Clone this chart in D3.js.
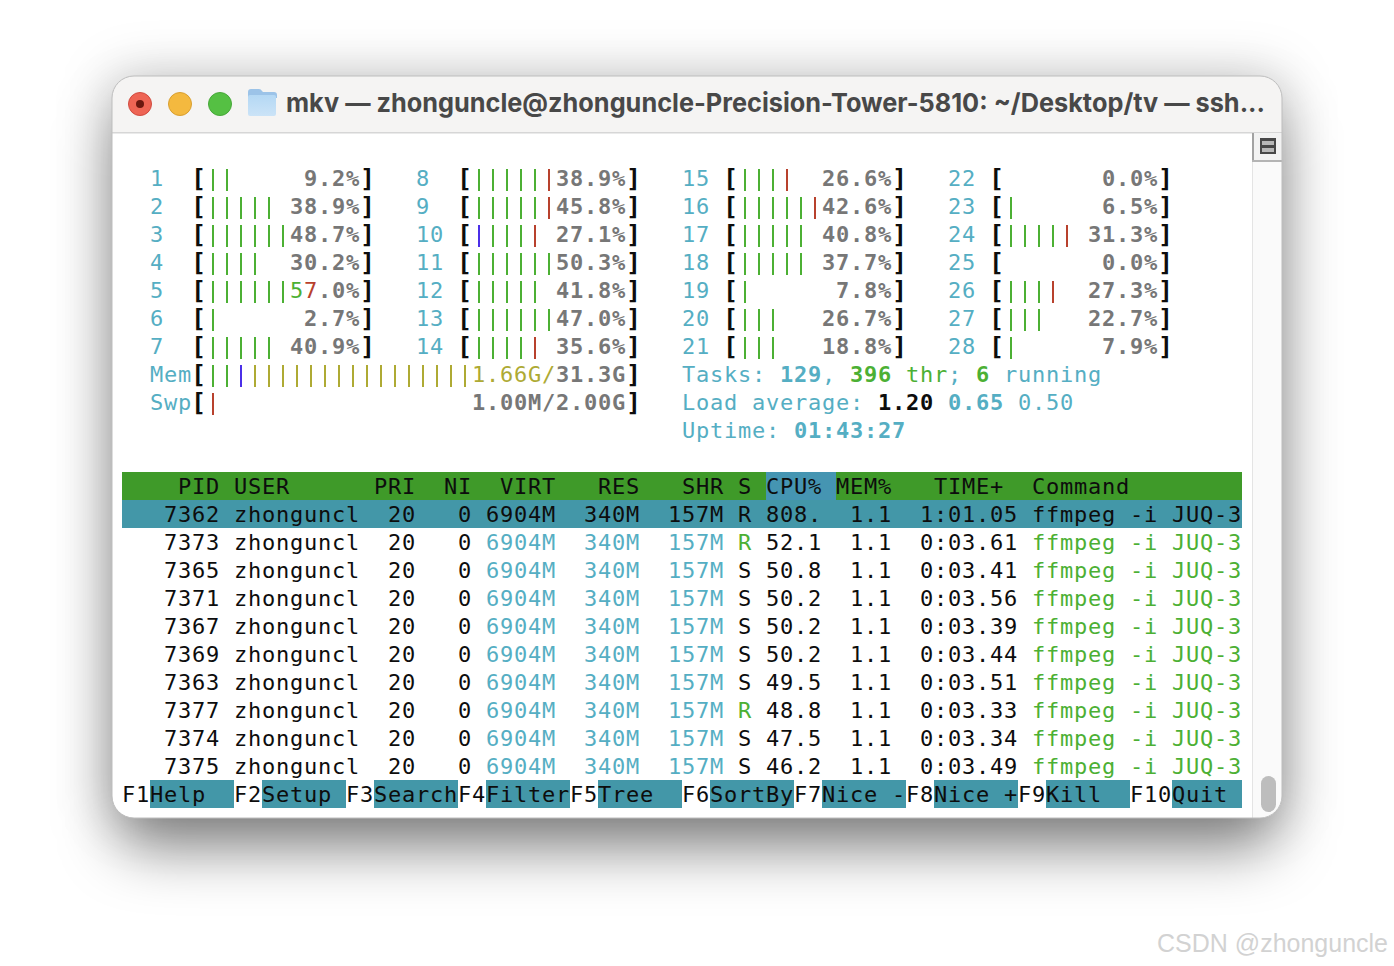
<!DOCTYPE html>
<html>
<head>
<meta charset="utf-8">
<script src="https://cdn.jsdelivr.net/npm/d3@7"></script>
<style>
html, body { margin: 0; padding: 0; background: #fff; overflow: hidden; }
svg { display: block; }
text.term { font-family: "DejaVu Sans Mono", monospace; font-size: 22px; letter-spacing: 0.76px; white-space: pre; }
</style>
</head>
<body>
<script>
var w = 1394,
    h = 966;

// cpu meters
var cpuLabels = d3.range(1, 29);
var cpuPct = [9.2, 38.9, 48.7, 30.2, 57.0, 2.7, 40.9,
              38.9, 45.8, 27.1, 50.3, 41.8, 47.0, 35.6,
              26.6, 42.6, 40.8, 37.7, 7.8, 26.7, 18.8,
              0.0, 6.5, 31.3, 0.0, 27.3, 22.7, 7.9];
var cpuBars = ["gg", "ggggg", "gggggg", "gggg", "gggggggr", "g", "ggggg",
               "gggggr", "gggggr", "bgggr", "gggggg", "ggggg", "gggggg", "ggggr",
               "gggr", "gggggr", "ggggg", "ggggg", "g", "ggg", "ggg",
               "", "g", "ggggr", "", "gggr", "ggg", "g"];
var cpuLabelCols = [2, 21, 40, 59];

var memLabels = ["Mem", "Swp"];
var memText = ["1.66G/31.3G", "1.00M/2.00G"];
var memBars = ["ggbyyyyyyyyyyyyyyyyyyyyyy", "r"];

// process table
var pids = [7362, 7373, 7365, 7371, 7367, 7369, 7363, 7377, 7374, 7375];
var states = ["R", "R", "S", "S", "S", "S", "S", "R", "S", "S"];
var cpuUse = ["808.", "52.1", "50.8", "50.2", "50.2", "50.2", "49.5", "48.8", "47.5", "46.2"];
var times = ["1:01.05", "0:03.61", "0:03.41", "0:03.56", "0:03.39", "0:03.44", "0:03.51", "0:03.33", "0:03.34", "0:03.49"];
var headers = ["PID", "USER", "PRI", "NI", "VIRT", "RES", "SHR", "S", "CPU%", "MEM%", "TIME+", "Command"];
var headerCols = [4, 8, 18, 23, 27, 34, 40, 44, 46, 51, 58, 65];

var fnKeys = ["F1", "F2", "F3", "F4", "F5", "F6", "F7", "F8", "F9", "F10"];
var fnNames = ["Help", "Setup", "Search", "Filter", "Tree", "SortBy", "Nice -", "Nice +", "Kill", "Quit"];

var colors = {
  g: "#4cb034", r: "#b8412d", b: "#4b2fe8", y: "#aeaa34",
  cyan: "#55aec3", gray: "#777777", black: "#0d0d0d",
  header: "#3f9a29", teal: "#4397a8", sortcol: "#4595b2"
};

var svg = d3.select("body").append("svg")
    .attr("width", w)
    .attr("height", h);

var defs = svg.append("defs");

function blur(id, dev) {
  defs.append("filter")
      .attr("id", id)
      .attr("x", "-20%").attr("y", "-30%")
      .attr("width", "140%").attr("height", "160%")
    .append("feGaussianBlur").attr("stdDeviation", dev);
}
blur("ambient", 24);
blur("shadow", 30);

defs.append("clipPath").attr("id", "win").append("rect")
    .attr("x", 112).attr("y", 76)
    .attr("width", 1170).attr("height", 742)
    .attr("rx", 22);

var folderGrad = defs.append("linearGradient")
    .attr("id", "folder")
    .attr("x1", "0%").attr("y1", "0%")
    .attr("x2", "0%").attr("y2", "100%");
folderGrad.append("stop").attr("offset", "0%").attr("stop-color", "#b4d8f4");
folderGrad.append("stop").attr("offset", "100%").attr("stop-color", "#cbe3f7");

// window + shadow
svg.append("rect")
    .attr("x", 104).attr("y", 68)
    .attr("width", 1186).attr("height", 758)
    .attr("rx", 30)
    .attr("fill", "#000")
    .attr("fill-opacity", 0.14)
    .attr("filter", "url(#ambient)");
svg.append("rect")
    .attr("x", 118).attr("y", 108)
    .attr("width", 1158).attr("height", 740)
    .attr("rx", 26)
    .attr("fill", "#000")
    .attr("fill-opacity", 0.46)
    .attr("filter", "url(#shadow)");

svg.append("rect")
    .attr("x", 112).attr("y", 76)
    .attr("width", 1170).attr("height", 742)
    .attr("rx", 22)
    .attr("fill", "#fff");

var win = svg.append("g").attr("clip-path", "url(#win)");

win.append("rect")
    .attr("x", 112).attr("y", 76)
    .attr("width", 1170).attr("height", 56)
    .attr("fill", "#f5f4f3");
win.append("rect")
    .attr("x", 112).attr("y", 132)
    .attr("width", 1170).attr("height", 1.5)
    .attr("fill", "#d6d6d6");

// scrollbar strip
win.append("rect")
    .attr("x", 1253).attr("y", 133)
    .attr("width", 29).attr("height", 685)
    .attr("fill", "#fafafa");
win.append("rect")
    .attr("x", 1252).attr("y", 133)
    .attr("width", 1).attr("height", 685)
    .attr("fill", "#e4e4e4");
win.append("rect")
    .attr("x", 1253).attr("y", 133)
    .attr("width", 29).attr("height", 28)
    .attr("fill", "#f2f2f2");
win.append("rect")
    .attr("x", 1252).attr("y", 133)
    .attr("width", 2).attr("height", 29)
    .attr("fill", "#a2a2a2");
win.append("rect")
    .attr("x", 1252).attr("y", 160)
    .attr("width", 30).attr("height", 2)
    .attr("fill", "#b4b4b4");
win.append("rect")
    .attr("x", 1260).attr("y", 138)
    .attr("width", 16).attr("height", 16)
    .attr("fill", "#484848");
win.append("rect")
    .attr("x", 1262).attr("y", 141)
    .attr("width", 12).attr("height", 4)
    .attr("fill", "#b8b8b8");
win.append("rect")
    .attr("x", 1262).attr("y", 148)
    .attr("width", 12).attr("height", 4)
    .attr("fill", "#b8b8b8");
win.append("rect")
    .attr("x", 1261).attr("y", 776)
    .attr("width", 15).attr("height", 36)
    .attr("rx", 7.5)
    .attr("fill", "#bdbdbd");

svg.append("rect")
    .attr("x", 112).attr("y", 76)
    .attr("width", 1170).attr("height", 742)
    .attr("rx", 22)
    .attr("fill", "none")
    .attr("stroke", "#bdbdbd");

// traffic lights
var lights = [
  {x: 140, fill: "#ee6454", stroke: "#d14b40"},
  {x: 180, fill: "#f4b93f", stroke: "#d99f30"},
  {x: 220, fill: "#55c043", stroke: "#47a839"}
];
svg.selectAll("circle.light").data(lights).enter().append("circle")
    .attr("class", "light")
    .attr("cx", function(d) { return d.x; })
    .attr("cy", 104)
    .attr("r", 11.5)
    .attr("fill", function(d) { return d.fill; })
    .attr("stroke", function(d) { return d.stroke; });
svg.append("circle")
    .attr("cx", 140).attr("cy", 104).attr("r", 4)
    .attr("fill", "#6b170f");

// folder icon
svg.append("path")
    .attr("d", "M248 92 q0 -3 3 -3 h8 q2 0 3 2 l1 1 h11 q3 0 3 3 v3 h-29 z")
    .attr("fill", "#9cc3e8");
svg.append("rect")
    .attr("x", 248).attr("y", 95)
    .attr("width", 28).attr("height", 21)
    .attr("rx", 2)
    .attr("fill", "url(#folder)");

svg.append("text")
    .attr("x", 286).attr("y", 112)
    .attr("textLength", 979)
    .attr("lengthAdjust", "spacingAndGlyphs")
    .style("font-family", "Inter, Roboto, sans-serif")
    .style("font-size", "26px")
    .style("font-weight", 700)
    .attr("fill", "#484848")
    .text("mkv — zhonguncle@zhonguncle-Precision-Tower-5810: ~/Desktop/tv — ssh...");

svg.append("text")
    .attr("x", 1157).attr("y", 952)
    .attr("textLength", 231)
    .attr("lengthAdjust", "spacingAndGlyphs")
    .style("font-family", "Liberation Sans, sans-serif")
    .style("font-size", "26px")
    .attr("fill", "#d2d2d2")
    .text("CSDN @zhonguncle");

// terminal grid: 80 cols x 24 rows
var col = d3.scaleLinear().domain([0, 80]).range([122, 1242]);
var row = d3.scaleLinear().domain([0, 24]).range([136, 808]);

var term = svg.append("g");
var bgLayer = term.append("g");
var barLayer = term.append("g");
var textLayer = term.append("g");

function put(c, r, str, color, bold) {
  return textLayer.append("text")
      .attr("class", "term")
      .attr("x", col(c))
      .attr("y", row(r) + 22)
      .attr("fill", color)
      .style("font-weight", bold ? "bold" : "normal")
      .text(str);
}

// write a list of [string, color, bold] one after another
function runs(c, r, parts) {
  parts.forEach(function(p) {
    put(c, r, p[0], p[1], p[2]);
    c += p[0].length;
  });
}

function cell(c, r, cols, fill) {
  bgLayer.append("rect")
      .attr("x", col(c))
      .attr("y", row(r))
      .attr("width", col(c + cols) - col(c))
      .attr("height", row(r + 1) - row(r))
      .attr("fill", fill);
}

function meter(labelCol, bracketCol, closeCol, r, label, bars, txt) {
  put(labelCol, r, label, colors.cyan);
  // brackets are taller than the text in the original font
  put(bracketCol, r, "[", colors.black, true).style("font-size", "25px").attr("dx", -1).attr("dy", 1);
  put(closeCol, r, "]", colors.black, true).style("font-size", "25px").attr("dx", 0).attr("dy", 1);

  var start = bracketCol + 1,
      textCol = closeCol - txt.length;

  bars.split("").forEach(function(b, i) {
    if (start + i >= textCol) return;
    barLayer.append("rect")
        .attr("x", (col(start + i) + col(start + i + 1)) / 2 - 1)
        .attr("y", row(r) + 5)
        .attr("width", 2)
        .attr("height", 22)
        .attr("fill", colors[b]);
  });

  // text sitting over the bar takes the bar colours
  txt.split("").forEach(function(ch, i) {
    var b = bars[textCol - start + i];
    put(textCol + i, r, ch, b ? colors[b] : colors.gray, !b);
  });
}

cpuLabels.forEach(function(label, i) {
  var block = Math.floor(i / 7),
      c = cpuLabelCols[block];
  meter(c, c + 3, c + 15, 1 + i % 7, String(label), cpuBars[i], cpuPct[i].toFixed(1) + "%");
});

memLabels.forEach(function(label, i) {
  meter(2, 5, 36, 8 + i, label, memBars[i], memText[i]);
});

runs(40, 8, [["Tasks: ", colors.cyan], ["129", colors.cyan, true], [", ", colors.cyan],
             ["396", colors.g, true], [" ", colors.cyan], ["thr", colors.g], ["; ", colors.cyan],
             ["6", colors.g, true], [" running", colors.cyan]]);
runs(40, 9, [["Load average: ", colors.cyan], ["1.20 ", colors.black, true],
             ["0.65 ", colors.cyan, true], ["0.50", colors.cyan]]);
runs(40, 10, [["Uptime: ", colors.cyan], ["01:43:27", colors.cyan, true]]);

// table header
cell(0, 12, 80, colors.header);
cell(46, 12, 5, colors.sortcol);
headers.forEach(function(d, i) {
  put(headerCols[i], 12, d, colors.black);
});

// table rows
pids.forEach(function(pid, i) {
  var r = 13 + i,
      sel = i == 0,
      cyan = sel ? colors.black : colors.cyan,
      green = sel ? colors.black : colors.g;
  if (sel) cell(0, r, 80, colors.teal);
  put(3, r, String(pid), colors.black);
  put(8, r, "zhonguncl", colors.black);
  put(19, r, "20", colors.black);
  put(24, r, "0", colors.black);
  put(26, r, "6904M", cyan);
  put(33, r, "340M", cyan);
  put(39, r, "157M", cyan);
  put(44, r, states[i], states[i] == "R" ? green : colors.black);
  put(46, r, cpuUse[i], colors.black);
  put(52, r, "1.1", colors.black);
  put(57, r, times[i], colors.black);
  put(65, r, "ffmpeg -i JUQ-3", green);
});

// function key bar
fnKeys.forEach(function(k, i) {
  var c = i * 8;
  put(c, 23, k, colors.black);
  cell(c + k.length, 23, 8 - k.length, colors.teal);
  put(c + k.length, 23, fnNames[i], colors.black);
});
</script>
</body>
</html>
